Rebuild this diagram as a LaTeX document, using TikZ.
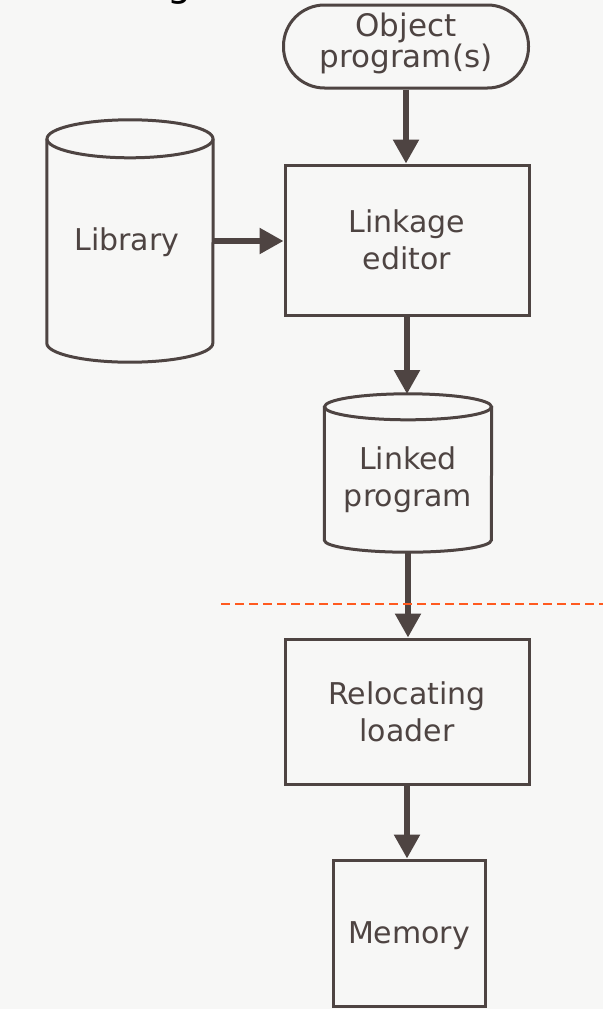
\documentclass[tikz,border=0pt]{standalone}
\usepackage{fontspec}
\setmainfont{DejaVu Sans}
\usetikzlibrary{arrows.meta}
\definecolor{ink}{HTML}{4E4442}
\definecolor{paper}{HTML}{F7F7F6}
\definecolor{cutline}{HTML}{FF5A1F}

\begin{document}
\begin{tikzpicture}[x=1pt,y=-1pt,
  outline/.style={draw=ink, line width=3pt},
  txt/.style={text=ink, align=center, inner sep=0pt,
    font=\fontsize{30}{37}\selectfont},
  procbox/.style={outline, txt, rectangle},
  terminal/.style={outline, rectangle, rounded corners=41pt},
  body/.style={rectangle, inner sep=0pt},
  flow/.style={draw=ink, line width=5.5pt,
    -{Triangle[length=24pt,width=25pt]}},
  cut/.style={draw=cutline, line width=1.8pt, dash pattern=on 9pt off 5pt}]

% page
\fill[paper] (0,0) rectangle (603,1009);
\useasboundingbox (0,0) rectangle (603,1009);
\clip (0,0) rectangle (603,1009);

% tail of the heading above
\node[font=\fontsize{38}{38}\selectfont, text=black, inner sep=0pt,
  anchor=base] (head) at (180,-4) {g};

% object programs (terminal)
\node[terminal, minimum width=245pt, minimum height=83pt] (obj) at (406,46.5) {};
\node[txt, font=\fontsize{31}{28}\selectfont] (obj-txt) at (406,43)
  {Object\\program(s)};

% linkage editor
\node[procbox, minimum width=244pt, minimum height=150pt] (link) at (407,240)
  {Linkage\\editor};

% library (disk file)
\node[body, minimum width=166pt, minimum height=204pt] (lib) at (130,241) {};
\draw[outline] (lib.north) ellipse [x radius=83pt, y radius=19pt];
\draw[outline] (lib.north west) -- (lib.south west)
  arc [start angle=180, end angle=360, x radius=83pt, y radius=19pt]
  -- (lib.north east);
\node[txt] (lib-txt) at (127,242) {Library};

% linked program (disk file)
\node[body, minimum width=167pt, minimum height=133pt] (lp) at (408,473.5) {};
\draw[outline] (lp.north) ellipse [x radius=83.5pt, y radius=13pt];
\draw[outline] (lp.north west) -- (lp.south west)
  arc [start angle=180, end angle=360, x radius=83.5pt, y radius=12pt]
  -- (lp.north east);
\coordinate (lp-top) at (408,394);
\coordinate (lp-bot) at (408,552);
\node[txt] (lp-txt) at (408,480) {Linked\\program};

% relocating loader
\node[procbox, minimum width=244pt, minimum height=145pt] (reloc) at (407,711.5)
  {Relocating\\loader};

% memory
\node[procbox, minimum width=152pt, minimum height=146pt] (mem) at (409,933) {};
\node[txt] (mem-txt) at (409,935.5) {Memory};

% connectors
\draw[flow] (obj.south) -- (obj.south |- link.north);
\draw[flow] (lib.east) -- (lib.east -| link.west);
\draw[flow] (link.south) -- (link.south |- lp-top);
\draw[flow] (lp-bot) -- (lp-bot |- reloc.north);
\draw[flow] (reloc.south) -- (reloc.south |- mem.north);

% cut mark
\coordinate (cut-a) at (221,604);
\coordinate (cut-b) at (603,604);
\draw[cut] (cut-a) -- (cut-b);
\end{tikzpicture}
\end{document}
